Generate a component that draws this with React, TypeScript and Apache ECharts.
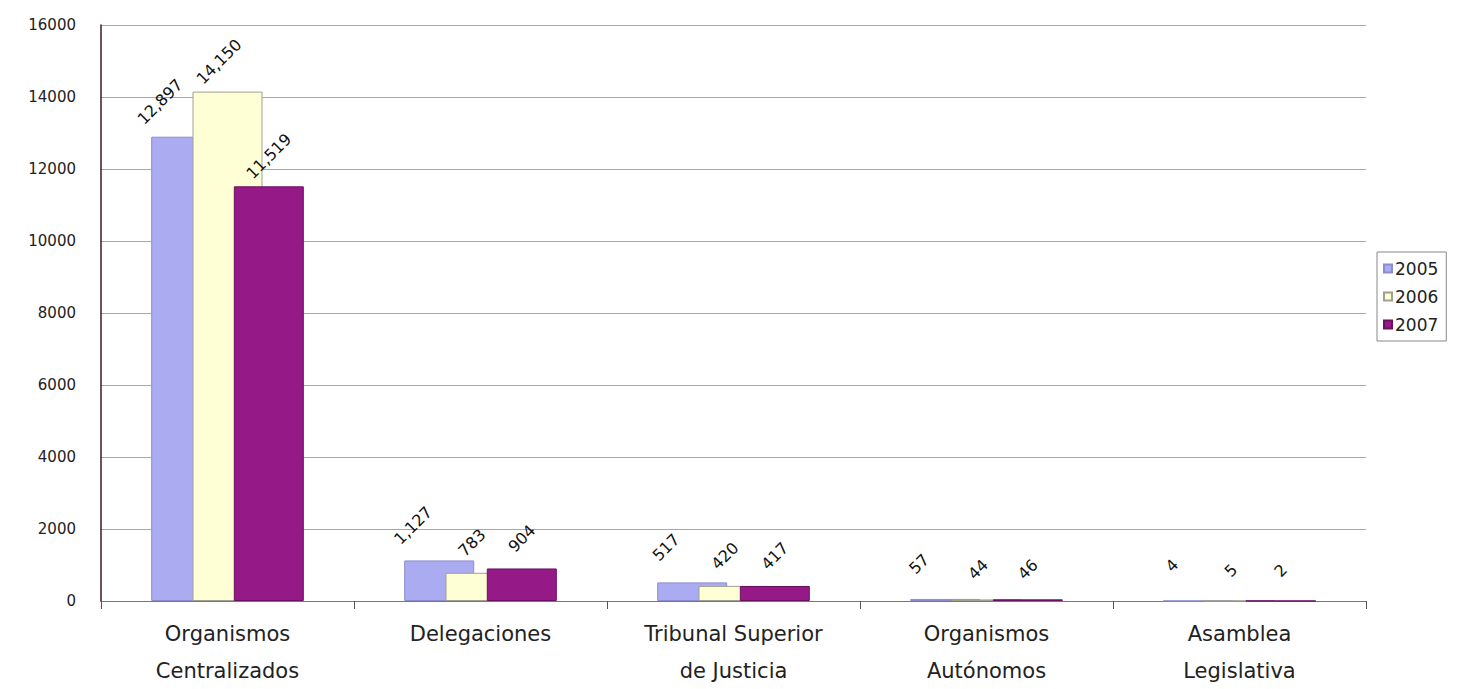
import React, { useEffect, useRef } from "react";
import * as echarts from "echarts";

const categories = [
  "Organismos\nCentralizados",
  "Delegaciones",
  "Tribunal Superior\nde Justicia",
  "Organismos\nAutónomos",
  "Asamblea\nLegislativa",
];
const seriesNames = ["2005", "2006", "2007"];
const values2005 = [12897, 1127, 517, 57, 4];
const values2006 = [14150, 783, 420, 44, 5];
const values2007 = [11519, 904, 417, 46, 2];
const yTicks = { min: 0, max: 16000, interval: 2000 };

const WIDE = "DejaVu Sans, Liberation Sans, sans-serif";

export default function App() {
  const ref = useRef<HTMLDivElement>(null);
  useEffect(() => {
    document.body.style.margin = "0";
    const chart = echarts.init(ref.current!, undefined, { renderer: "svg" });
    const fmt = (p: any) => Number(p.value).toLocaleString("en-US");
    // offsets are in the rotated label frame
    const labelOffsets = [[-15, -22], [-6, -6], [0, 0]];
    const makeLabel = (i: number) => ({
      show: true,
      position: "top",
      rotate: 45,
      distance: 30,
      offset: labelOffsets[i],
      align: "center",
      verticalAlign: "middle",
      formatter: fmt,
      fontFamily: WIDE,
      fontSize: 16,
      color: "#111",
    });
    const styles = [
      { color: "#ABABF2", borderColor: "#8C8CD0", borderWidth: 1 },
      { color: "#FFFFD6", borderColor: "#A0A090", borderWidth: 1 },
      { color: "#951A88", borderColor: "#6A1060", borderWidth: 1 },
    ];
    const data = [values2005, values2006, values2007];
    chart.setOption({
      animation: false,
      backgroundColor: "#ffffff",
      grid: { left: 101, right: 102, top: 25, bottom: 88 },
      legend: {
        orient: "vertical",
        left: 1377,
        top: 252,
        itemWidth: 8,
        itemHeight: 8,
        itemGap: 11,
        padding: [8, 8, 8, 6],
        borderColor: "#888",
        borderWidth: 1,
        icon: "rect",
        textStyle: { fontFamily: WIDE, fontSize: 17, color: "#222", padding: [0, 0, 0, -2] },
        data: seriesNames,
      },
      xAxis: {
        type: "category",
        data: categories,
        axisLine: { lineStyle: { color: "#777", width: 1 } },
        axisTick: { show: true, length: 8, lineStyle: { color: "#555" } },
        axisLabel: {
          fontFamily: WIDE,
          fontSize: 21,
          color: "#222",
          lineHeight: 37,
          margin: 14,
        },
      },
      yAxis: {
        type: "value",
        min: yTicks.min,
        max: yTicks.max,
        interval: yTicks.interval,
        axisLine: { show: true, lineStyle: { color: "#3a1a2a", width: 1.5 } },
        axisTick: { show: false },
        splitLine: { lineStyle: { color: "#A8A8A8", width: 1 } },
        axisLabel: {
          fontFamily: WIDE,
          fontSize: 15,
          color: "#222",
          margin: 25,
          formatter: (v: number) => String(v),
        },
      },
      series: seriesNames.map((name, i) => ({
        name,
        type: "bar",
        data: data[i],
        barWidth: 70,
        barGap: "-41%",
        itemStyle: styles[i],
        label: makeLabel(i),
      })),
    });
    return () => chart.dispose();
  }, []);
  return (
    <div
      ref={ref}
      style={{ position: "fixed", left: 0, top: 0, width: 1468, height: 689 }}
    />
  );
}
